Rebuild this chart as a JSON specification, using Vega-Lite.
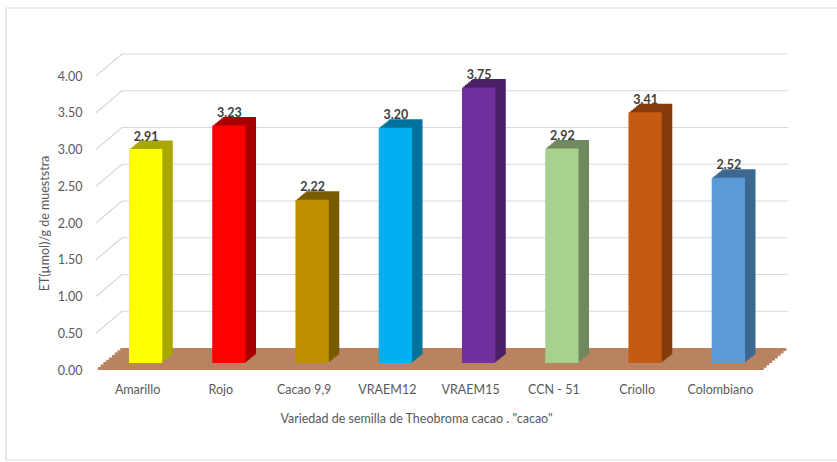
{
  "$schema": "https://vega.github.io/schema/vega-lite/v6.json",
  "width": 666,
  "height": 294,
  "autosize": {"type": "none"},
  "padding": {"left": 96, "top": 76, "right": 75, "bottom": 92},
  "background": "#FFFFFF",
  "config": {
    "view": {"stroke": null},
    "font": "Lato"
  },
  "resolve": {"axis": {"x": "independent", "y": "independent"}},
  "datasets": {
    "semillas": [
      {"variedad": "Amarillo", "et": 2.91},
      {"variedad": "Rojo", "et": 3.23},
      {"variedad": "Cacao 9,9", "et": 2.22},
      {"variedad": "VRAEM12", "et": 3.20},
      {"variedad": "VRAEM15", "et": 3.75},
      {"variedad": "CCN - 51", "et": 2.92},
      {"variedad": "Criollo", "et": 3.41},
      {"variedad": "Colombiano", "et": 2.52}
    ],
    "niveles": [
      {"v": 0.5}, {"v": 1.0}, {"v": 1.5}, {"v": 2.0},
      {"v": 2.5}, {"v": 3.0}, {"v": 3.5}, {"v": 4.0}
    ],
    "marco": [{}]
  },
  "layer": [
    {
      "data": {"name": "marco"},
      "encoding": {
        "x": {"datum": "Amarillo", "type": "nominal", "bandPosition": 0, "axis": null}
      },
      "layer": [
        {
          "mark": {"type": "rule", "stroke": "#D9D9D9", "strokeWidth": 1.2,
                   "xOffset": -115, "x2Offset": 100, "yOffset": -68},
          "encoding": {
            "x2": {"datum": "Colombiano", "bandPosition": 1},
            "y": {"datum": 4, "type": "quantitative", "axis": null}
          }
        },
        {
          "mark": {"type": "rule", "stroke": "#D9D9D9", "strokeWidth": 1.2,
                   "xOffset": -115, "x2Offset": 100, "yOffset": 90},
          "encoding": {
            "x2": {"datum": "Colombiano", "bandPosition": 1},
            "y": {"datum": 0, "type": "quantitative", "axis": null}
          }
        },
        {
          "mark": {"type": "rule", "stroke": "#D9D9D9", "strokeWidth": 1.2,
                   "xOffset": -115, "yOffset": 90, "y2Offset": -68},
          "encoding": {
            "y": {"datum": 0, "type": "quantitative", "axis": null},
            "y2": {"datum": 4}
          }
        }
      ]
    },
    {
      "data": {"name": "niveles"},
      "mark": {"type": "rule", "stroke": "#D9D9D9", "strokeWidth": 1.2,
               "xOffset": 1, "x2Offset": 51, "yOffset": -22},
      "encoding": {
        "x": {"datum": "Amarillo", "type": "nominal", "bandPosition": 0, "axis": null},
        "x2": {"datum": "Colombiano", "bandPosition": 1},
        "y": {"field": "v", "type": "quantitative", "axis": null}
      }
    },
    {
      "data": {"name": "niveles"},
      "mark": {"type": "rule", "stroke": "#D9D9D9", "strokeWidth": 1.2,
               "xOffset": -25, "x2Offset": 1, "y2Offset": -22},
      "encoding": {
        "x": {"datum": "Amarillo", "type": "nominal", "bandPosition": 0, "axis": null},
        "x2": {"datum": "Amarillo", "bandPosition": 0},
        "y": {"field": "v", "type": "quantitative", "axis": null},
        "y2": {"field": "v"}
      }
    },
    {
      "data": {"name": "marco"},
      "encoding": {
        "x": {"datum": "Amarillo", "type": "nominal", "bandPosition": 0, "axis": null},
        "x2": {"datum": "Colombiano", "bandPosition": 1},
        "y": {"datum": 0, "type": "quantitative", "axis": null}
      },
      "layer": [
        {"mark": {"type": "rule", "stroke": "#B98260", "strokeWidth": 3.2, "xOffset": -0.7, "x2Offset": 49.3, "yOffset": -20.5}},
        {"mark": {"type": "rule", "stroke": "#B98260", "strokeWidth": 3.2, "xOffset": -3.5, "x2Offset": 46.5, "yOffset": -18.1}},
        {"mark": {"type": "rule", "stroke": "#B98260", "strokeWidth": 3.2, "xOffset": -6.3, "x2Offset": 43.7, "yOffset": -15.8}},
        {"mark": {"type": "rule", "stroke": "#B98260", "strokeWidth": 3.2, "xOffset": -9.1, "x2Offset": 40.9, "yOffset": -13.4}},
        {"mark": {"type": "rule", "stroke": "#B98260", "strokeWidth": 3.2, "xOffset": -12.0, "x2Offset": 38.0, "yOffset": -11.0}},
        {"mark": {"type": "rule", "stroke": "#B98260", "strokeWidth": 3.2, "xOffset": -14.8, "x2Offset": 35.2, "yOffset": -8.6}},
        {"mark": {"type": "rule", "stroke": "#B98260", "strokeWidth": 3.2, "xOffset": -17.6, "x2Offset": 32.4, "yOffset": -6.3}},
        {"mark": {"type": "rule", "stroke": "#B98260", "strokeWidth": 3.2, "xOffset": -20.4, "x2Offset": 29.6, "yOffset": -3.9}},
        {"mark": {"type": "rule", "stroke": "#B98260", "strokeWidth": 3.2, "xOffset": -23.2, "x2Offset": 26.8, "yOffset": -1.5}}
      ]
    },
    {
      "data": {"name": "semillas"},
      "encoding": {
        "x": {
          "field": "variedad", "type": "nominal", "sort": null,
          "scale": {
            "domain": ["Amarillo", "Rojo", "Cacao 9,9", "VRAEM12", "VRAEM15", "CCN - 51", "Criollo", "Colombiano"],
            "paddingInner": 0.6, "paddingOuter": 0.3
          },
          "axis": {
            "title": "Variedad de semilla de Theobroma cacao . \"cacao\"",
            "labelAngle": 0, "ticks": false, "domain": false, "grid": false,
            "labelPadding": 13, "labelFontSize": 12.5, "labelColor": "#595959",
            "titleFontSize": 12.5, "titleFontWeight": "normal", "titleColor": "#595959",
            "titlePadding": 17, "titleX": 320
          }
        },
        "y": {
          "field": "et", "type": "quantitative",
          "scale": {"domain": [0, 4]},
          "axis": {
            "title": "ET(µmol)/g de mueststra",
            "values": [0, 0.5, 1, 1.5, 2, 2.5, 3, 3.5, 4],
            "format": ".2f", "grid": false, "ticks": false, "domain": false,
            "labelPadding": 14, "labelFontSize": 12.5, "labelColor": "#595959",
            "titleFontSize": 12.5, "titleFontWeight": "normal", "titleColor": "#595959",
            "titlePadding": 6
          }
        }
      },
      "layer": [
        {"mark": {"type": "bar", "xOffset": 18.5, "yOffset": -15.5, "y2Offset": -15.5}, "encoding": {"fill": {"field": "variedad", "type": "nominal", "sort": null, "legend": null, "scale": {"range": ["#A8A800", "#A80000", "#7A5C00", "#00729C", "#4A2068", "#6F8A5E", "#843C0C", "#3C6891"]}}}},
        {"mark": {"type": "bar", "xOffset": 17.0, "yOffset": -14.3, "y2Offset": -14.3}, "encoding": {"fill": {"field": "variedad", "type": "nominal", "sort": null, "legend": null}}},
        {"mark": {"type": "bar", "xOffset": 15.5, "yOffset": -13.1, "y2Offset": -13.1}, "encoding": {"fill": {"field": "variedad", "type": "nominal", "sort": null, "legend": null}}},
        {"mark": {"type": "bar", "xOffset": 14.0, "yOffset": -11.9, "y2Offset": -11.9}, "encoding": {"fill": {"field": "variedad", "type": "nominal", "sort": null, "legend": null}}},
        {"mark": {"type": "bar", "xOffset": 12.5, "yOffset": -10.6, "y2Offset": -10.6}, "encoding": {"fill": {"field": "variedad", "type": "nominal", "sort": null, "legend": null}}},
        {"mark": {"type": "bar", "xOffset": 11.0, "yOffset": -9.4, "y2Offset": -9.4}, "encoding": {"fill": {"field": "variedad", "type": "nominal", "sort": null, "legend": null}}},
        {"mark": {"type": "bar", "xOffset": 9.5, "yOffset": -8.2, "y2Offset": -8.2}, "encoding": {"fill": {"field": "variedad", "type": "nominal", "sort": null, "legend": null}}},
        {"mark": {"type": "bar", "xOffset": 8.0, "yOffset": -7.0, "y2Offset": -7.0}, "encoding": {"color": {"field": "variedad", "type": "nominal", "sort": null, "legend": null, "scale": {"range": ["#FFFF00", "#FF0000", "#BF8F00", "#00B0F0", "#7030A0", "#A9D18E", "#C55A11", "#5B9BD5"]}}}},
        {
          "mark": {"type": "text", "baseline": "alphabetic", "xOffset": 8.5, "yOffset": -15.5,
                   "fontSize": 12.5, "fontWeight": "bold", "fill": "#404040"},
          "encoding": {"text": {"field": "et", "type": "quantitative", "format": ".2f"}}
        }
      ]
    }
  ]
}
